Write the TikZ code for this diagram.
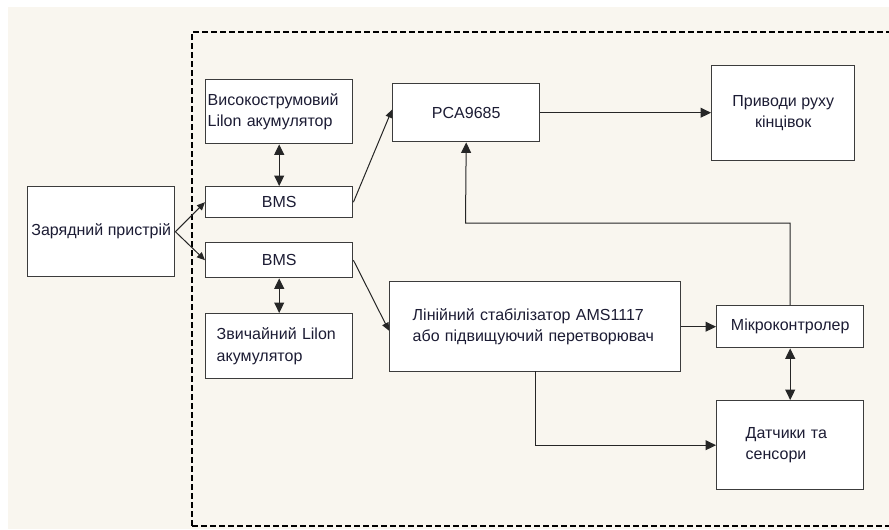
\documentclass[tikz,border=0pt]{standalone}
\usepackage{fontspec}
\setmainfont{Liberation Sans}
\usetikzlibrary{arrows.meta,calc}

\definecolor{paper}{HTML}{F9F6EF}
\definecolor{frame}{HTML}{3C3C3C}
\definecolor{ink}{HTML}{1C1C34}

\begin{document}
\begin{tikzpicture}[x=1pt,y=-1pt,
  font=\fontsize{16}{21.5}\selectfont,
  box/.style={draw=frame, line width=1.4pt, fill=white, text=ink,
    anchor=north west, inner sep=0pt, align=center},
  lbox/.style={box, align=left},
  conn/.style={draw=black!85, line width=1pt},
  big/.style={-{Triangle[length=10.5pt,width=10pt]}},
  small/.style={-{Triangle[length=8pt,width=7pt]}},
  both/.style={{Triangle[length=10.5pt,width=10pt]}-{Triangle[length=10.5pt,width=10pt]}},
  frameline/.style={draw=black, line width=1.1pt, dash pattern=on 6pt off 3pt}]

  % page area
  \clip (0,0) rectangle (889,530);
  \fill[white] (0,0) rectangle (889,530);
  \fill[paper] (8,7) rectangle (889,529);

  % dashed boundary of the robot
  \draw[frameline] (192,526) -- (192,32) -- (900,32);
  \draw[frameline] (192,526) -- (900,526);

  % blocks
  \node[box, minimum width=147pt, minimum height=90pt] (charger) at (27,186) {Зарядний пристрій};
  \node[lbox, text width=143pt, inner xsep=2pt, minimum height=64pt] (hi) at (205,79) {Високострумовий\\Lilon акумулятор};
  \node[box, minimum width=147pt, minimum height=31pt] (bms1) at (205,186) {BMS};
  \node[box, minimum width=147pt, minimum height=35pt] (bms2) at (205,242) {BMS};
  \node[lbox, text width=125pt, inner xsep=11pt, minimum height=65pt] (norm) at (205,313) {Звичайний Lilon\\акумулятор};
  \node[box, minimum width=147pt, minimum height=58pt] (pca) at (392,83) {PCA9685};
  \node[box, minimum width=143pt, minimum height=95pt] (drive) at (711,65) {Приводи руху\\кінцівок};
  \node[lbox, text width=245pt, inner xsep=23pt, minimum height=90pt] (lin) at (389,281) {Лінійний стабілізатор AMS1117\\або підвищуючий перетворювач};
  \node[box, minimum width=147pt, minimum height=42pt] (mcu) at (716,305) {Мікроконтролер};
  \node[lbox, text width=89pt, inner xsep=29pt, minimum height=89pt] (sens) at (716,400) {Датчики та\\сенсори};

  % bend points of the routed lines
  \coordinate (fb) at (465.5,223);
  \coordinate (ls) at (535,371);

  % connectors
  \draw[conn, small] (charger.east) -- (bms1.west);
  \draw[conn, small] (charger.east) -- (bms2.west);
  \draw[conn, both] (hi.south) -- (bms1.north);
  \draw[conn, both] (bms2.south) -- (norm.north);
  \draw[conn, small] (bms1.east) -- ([yshift=3pt]pca.west);
  \draw[conn, small] (bms2.east) -- ([yshift=-4pt]lin.west);
  \draw[conn, big] (pca.east) -- (pca.east -| drive.west);
  \draw[conn, big] (mcu.north) |- (fb) -- (pca.south);
  \draw[conn, big] (lin.east) -- (mcu.west);
  \draw[conn, big] (ls) |- (sens.west);
  \draw[conn, both] (mcu.south) -- (sens.north);
\end{tikzpicture}
\end{document}
